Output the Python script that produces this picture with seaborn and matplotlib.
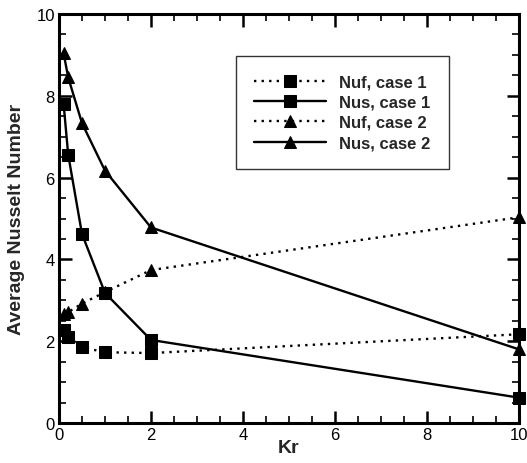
import matplotlib
matplotlib.use("Agg")
import matplotlib.pyplot as plt
import seaborn as sns
import pandas as pd
from matplotlib.ticker import MultipleLocator

kr = [0.1, 0.2, 0.5, 1, 2, 10]
nuf_case1 = [2.27, 2.11, 1.85, 1.73, 1.71, 2.17]
nus_case1 = [7.80, 6.56, 4.62, 3.18, 2.03, 0.62]
nuf_case2 = [2.66, 2.71, 2.92, 3.20, 3.74, 5.03]
nus_case2 = [9.04, 8.45, 7.33, 6.17, 4.78, 1.80]
labels = ["Nuf, case 1", "Nus, case 1", "Nuf, case 2", "Nus, case 2"]

sns.set_style("ticks")
plt.rcParams['font.family'] = ['Liberation Sans', 'DejaVu Sans']

fig = plt.figure(figsize=(5.27, 4.64), dpi=100)
ax = fig.add_axes([59/527, 40/464, 460/527, 409/464])

series = [nuf_case1, nus_case1, nuf_case2, nus_case2]
markers = ["s", "s", "^", "^"]
msizes = [8, 8, 9, 9]
styles = [(0, (1, 2.2)), "-", (0, (1, 2.2)), "-"]
for vals, lab, mk, ms, ls in zip(series, labels, markers, msizes, styles):
    df = pd.DataFrame({"Kr": kr, "Nu": vals})
    sns.lineplot(data=df, x="Kr", y="Nu", ax=ax, color="black", marker=mk,
                 linestyle=ls, linewidth=1.7, markersize=ms, markeredgecolor="black",
                 label=lab, clip_on=False, zorder=3)

ax.set_xlim(0, 10)
ax.set_ylim(0, 10)
ax.xaxis.set_major_locator(MultipleLocator(2))
ax.xaxis.set_minor_locator(MultipleLocator(0.5))
ax.yaxis.set_major_locator(MultipleLocator(2))
ax.yaxis.set_minor_locator(MultipleLocator(0.5))
ax.tick_params(which="both", direction="in", top=True, right=True, colors="black",
               labelsize=12, width=1.2, pad=3)
ax.tick_params(which="major", length=9, width=1.8)
ax.tick_params(which="minor", length=5)
for s in ax.spines.values():
    s.set_linewidth(2.2)
    s.set_color("black")

ax.set_xlabel("Kr", fontsize=14, fontweight="bold", labelpad=-2)
ax.set_ylabel("Average Nusselt Number", fontsize=14, fontweight="bold", labelpad=8)

leg = ax.legend(loc="upper left", bbox_to_anchor=(236/527, 1 - 57/464),
                bbox_transform=fig.transFigure, fancybox=False, frameon=True,
                edgecolor="black", fontsize=12, handlelength=4.3,
                borderpad=1.1, labelspacing=0.32, handletextpad=0.8, borderaxespad=0)
leg.get_frame().set_linewidth(1.0)
for t in leg.get_texts():
    t.set_fontweight("bold")

fig.savefig("out.png", dpi=100)
